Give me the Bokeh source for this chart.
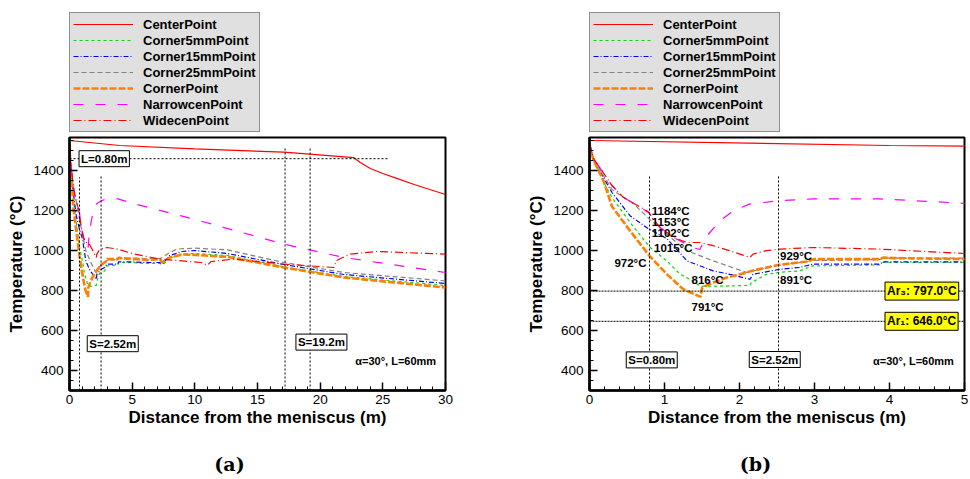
from bokeh.plotting import figure
from bokeh.layouts import row, column
from bokeh.models import (Range1d, Legend, LegendItem, Label,
                          SingleIntervalTicker)
from bokeh.embed import file_html
from bokeh.resources import INLINE

# ---------------- data ----------------
X_CENTER = [0, 4, 10, 17.1, 22.7, 23.2, 24.0, 25.0, 26.0, 27.5, 30]
T_CENTER = [1550, 1525, 1508, 1492, 1464, 1440, 1410, 1385, 1363, 1330, 1280]

X_C5 = [0, 0.05, 0.19, 0.3, 0.54, 0.8, 1.03, 1.21, 1.34, 1.45, 1.5, 1.8, 2.14,
        2.16, 2.36, 2.54, 2.8, 2.98, 3.87, 3.91, 5.0, 6.0, 7.2, 7.4, 8.0, 9.0,
        10, 12.6, 17.1, 21.9, 30]
T_C5 = [1530, 1465, 1340, 1265, 1141, 1018, 948, 881, 856, 828, 822, 822, 826,
        840, 881, 891, 898, 923, 928, 940, 940, 935, 935, 928, 960, 983,
        985, 975, 918, 870, 825]

X_C15 = [0, 0.05, 0.3, 0.54, 0.8, 1.03, 1.2, 1.3, 1.65, 1.87, 2.14, 2.18, 2.54,
         2.8, 2.98, 3.87, 3.91, 5.0, 6.0, 7.2, 7.4, 8.0, 9.0, 10, 12.6, 17.1,
         21.9, 30]
T_C15 = [1530, 1455, 1290, 1174, 1105, 1060, 990, 948, 898, 881, 856, 881, 906,
         915, 932, 932, 943, 943, 940, 940, 932, 975, 995, 1000, 985, 930,
         880, 835]

X_C25 = [0, 0.05, 0.3, 0.59, 0.8, 1.16, 1.3, 1.65, 2.1, 2.16, 2.36, 2.54, 2.8,
         2.98, 3.87, 3.91, 5.0, 6.0, 7.2, 7.4, 8.0, 8.6, 10, 12.6, 17.1, 21.9,
         30]
T_C25 = [1530, 1458, 1305, 1233, 1157, 1040, 999, 948, 890, 895, 915, 930, 940,
         950, 955, 962, 962, 960, 960, 965, 990, 1007, 1012, 1003, 940, 890,
         848]

X_CORNER = [0, 0.05, 0.19, 0.3, 0.54, 0.8, 1.03, 1.25, 1.48, 1.5, 1.65, 1.83,
            2.1, 2.16, 2.52, 2.9, 3.0, 3.87, 3.92, 4.05, 5.0, 5.4, 6.2, 7.2,
            7.4, 8.0, 9.0, 10, 12.6, 17.1, 21.9, 30]
T_CORNER = [1530, 1455, 1345, 1220, 1099, 973, 882, 806, 768, 814, 840, 865,
            890, 898, 928, 945, 957, 957, 965, 962, 957, 957, 952, 957,
            940, 965, 980, 978, 968, 915, 865, 815]

X_NARROW = [0, 0.05, 0.3, 0.45, 0.68, 0.8, 0.94, 1.12, 1.3, 1.4, 1.47, 1.56,
            1.74, 1.92, 2.14, 2.54, 2.98, 3.87, 5.0, 9.9, 17.1, 21.9, 30]
T_NARROW = [1535, 1462, 1325, 1266, 1216, 1186, 1116, 1065, 1030, 1012, 1005,
            1070, 1149, 1199, 1233, 1249, 1258, 1258, 1236, 1157, 1032, 965, 890]

X_WIDE = [0, 0.05, 0.3, 0.45, 0.68, 0.78, 0.8, 0.82, 0.94, 1.12, 1.3, 1.47,
          1.65, 1.87, 2.14, 2.18, 2.36, 2.54, 2.98, 3.87, 5.0, 7.2, 9.0, 10.5,
          11.0, 11.3, 11.8, 13.1, 17.1, 21.1, 21.3, 22.4, 24.5, 30]
T_WIDE = [1535, 1462, 1325, 1266, 1216, 1195, 1184, 1170, 1116, 1065, 1040,
          1040, 1024, 999, 965, 982, 999, 1007, 1015, 1007, 985, 957, 948, 940,
          926, 945, 948, 957, 932, 915, 950, 982, 995, 982]

SERIES_NAMES = ["CenterPoint", "Corner5mmPoint", "Corner15mmPoint",
                "Corner25mmPoint", "CornerPoint", "NarrowcenPoint", "WidecenPoint"]
SERIES_X = [X_CENTER, X_C5, X_C15, X_C25, X_CORNER, X_NARROW, X_WIDE]
SERIES_T = [T_CENTER, T_C5, T_C15, T_C25, T_CORNER, T_NARROW, T_WIDE]

# reference lines
A_VLINE_X = [0.8, 2.52, 17.2, 19.2]
A_VLINE_TOP = [1366, 1375, 1510, 1510]
A_HLINE_T = 1459
A_HLINE_XEND = 25.5
B_VLINE_X = [0.8, 2.52]
B_VLINE_TOP = [1375, 1375]
AR3 = 797.0
AR1 = 646.0

# annotation texts
B_TEMP_TEXT = ["1184°C", "1153°C", "1102°C", "1015°C", "972°C", "816°C",
               "791°C", "929°C", "891°C"]
B_TEMP_X = [0.83, 0.83, 0.83, 0.86, 0.76, 1.36, 1.36, 2.54, 2.54]
B_TEMP_Y = [1199, 1141, 1090, 1015, 940, 852, 716, 973, 851]
B_TEMP_ALIGN = ["left", "left", "left", "left", "right", "left", "left",
                "left", "left"]
PANEL_TAGS = ["(a)", "(b)"]

Y_MIN, Y_MAX = 300, 1565

STYLES = [
    dict(color="#ff0000", line_width=1.2, line_dash="solid"),
    dict(color="#00dd00", line_width=1.2, line_dash="3 3"),
    dict(color="#0000ff", line_width=1.2, line_dash="5 2 1 2"),
    dict(color="#808080", line_width=1.2, line_dash="5 3"),
    dict(color="#ff7f00", line_width=2.6, line_dash="7 2"),
    dict(color="#ff00ff", line_width=1.2, line_dash="10 12"),
    dict(color="#ff0000", line_width=1.2, line_dash="8 3 1 3"),
]

FONT = "Liberation Sans"
LEG_H = 135        # legend strip
MAIN_H = 299       # plot (frame 253 px high)
BOT_H = 43         # strip with the panel tag


def boxed(p, x, y, text, fill="white", align="center", size="11.5px"):
    p.add_layout(Label(x=x, y=y, text=text, text_align=align,
                       text_baseline="middle", text_font=FONT,
                       text_font_style="bold", text_font_size=size,
                       text_color="black", background_fill_color=fill,
                       background_fill_alpha=1.0, border_line_color="black",
                       border_line_width=1, padding=2))


def plain(p, x, y, text, align="left", size="11.5px", style="bold"):
    p.add_layout(Label(x=x, y=y, text=text, text_align=align,
                       text_baseline="middle", text_font=FONT,
                       text_font_style=style, text_font_size=size,
                       text_color="black"))


def blank_fig(width, height, bl, br, xr, yr):
    q = figure(width=width, height=height, output_backend="svg",
               toolbar_location=None, title=None, x_axis_type=None,
               y_axis_type=None, x_range=xr, y_range=yr,
               min_border_left=bl, min_border_right=br,
               min_border_top=0, min_border_bottom=0)
    q.outline_line_color = None
    q.xgrid.visible = False
    q.ygrid.visible = False
    return q


def make_legend_fig(width, bl, br):
    # legend-only strip; the series are drawn here outside the visible range
    q = blank_fig(width, LEG_H, bl, br, Range1d(-200, -100), Range1d(-200, -100))
    items = []
    for name, xs, ts, st in zip(SERIES_NAMES, SERIES_X, SERIES_T, STYLES):
        r = q.line(xs, ts, line_color=st["color"], line_width=st["line_width"],
                   line_dash=st["line_dash"])
        items.append(LegendItem(label=name, renderers=[r]))
    leg = Legend(items=items, location=(0, 3))
    leg.background_fill_color = "#e0e0e0"
    leg.background_fill_alpha = 1.0
    leg.border_line_color = "#404040"
    leg.border_line_width = 1
    leg.label_text_font = FONT
    leg.label_text_font_style = "bold"
    leg.label_text_font_size = "13px"
    leg.label_text_color = "black"
    leg.glyph_width = 60
    leg.glyph_height = 16
    leg.label_height = 16
    leg.label_standoff = 10
    leg.padding = 3
    leg.spacing = 0
    leg.margin = 0
    q.add_layout(leg)
    return q


def make_tag_fig(width, bl, br, tag, cx):
    fw = width - bl - br
    q = blank_fig(width, BOT_H, bl, br, Range1d(0, fw), Range1d(BOT_H, 0))
    q.add_layout(Label(x=cx, y=BOT_H - 14, text=tag, text_align="center",
                       text_baseline="middle", text_font="DejaVu Serif",
                       text_font_size="19px", text_font_style="bold",
                       text_color="black"))
    return q


def make_fig(width, bl, br, xmax, xint):
    p = figure(width=width, height=MAIN_H, output_backend="svg",
               toolbar_location=None, title=None,
               x_range=Range1d(0, xmax), y_range=Range1d(Y_MIN, Y_MAX),
               min_border_left=bl, min_border_right=br, min_border_top=2,
               min_border_bottom=44)
    p.background_fill_color = "white"
    p.border_fill_color = "white"
    p.outline_line_color = "black"
    p.outline_line_width = 2
    p.xgrid.visible = False
    p.ygrid.visible = False
    p.xaxis.ticker = SingleIntervalTicker(interval=xint, num_minor_ticks=5)
    p.yaxis.ticker = SingleIntervalTicker(interval=200, num_minor_ticks=4)
    for ax in (p.xaxis[0], p.yaxis[0]):
        ax.axis_line_width = 2.5
        ax.axis_line_color = "black"
        ax.major_tick_in = 8
        ax.major_tick_out = 0
        ax.minor_tick_in = 4
        ax.minor_tick_out = 0
        ax.major_tick_line_width = 1.5
        ax.minor_tick_line_width = 1
        ax.major_label_text_font = FONT
        ax.major_label_text_font_size = "13.5px"
        ax.major_label_text_color = "black"
        ax.axis_label_text_font = FONT
        ax.axis_label_text_font_size = "17px"
        ax.axis_label_text_font_style = "bold"
        ax.axis_label_text_color = "black"
    p.xaxis.axis_label = "Distance from the meniscus (m)"
    p.yaxis.axis_label = "Temperature (°C)"
    p.xaxis.major_label_standoff = 4
    p.xaxis.axis_label_standoff = 1
    p.yaxis.major_label_standoff = 6
    p.yaxis.axis_label_standoff = 4

    for xs, ts, st in zip(SERIES_X, SERIES_T, STYLES):
        p.line(xs, ts, line_color=st["color"], line_width=st["line_width"],
               line_dash=st["line_dash"])
    return p


# ---------------- (a) ----------------
la = make_legend_fig(485, 69, 40)
pa = make_fig(485, 69, 40, 30, 5)
ta = make_tag_fig(485, 69, 40, PANEL_TAGS[0], 229 - 69)
pa.segment(x0=A_VLINE_X, y0=[Y_MIN] * len(A_VLINE_X), x1=A_VLINE_X,
           y1=A_VLINE_TOP, line_color="black", line_dash="2 2", line_width=1)
pa.line([0, A_HLINE_XEND], [A_HLINE_T, A_HLINE_T], line_color="black",
        line_dash="2 2", line_width=1)
boxed(pa, 2.77, A_HLINE_T, "L=0.80m")
boxed(pa, 3.45, 534, "S=2.52m")
boxed(pa, 20.1, 542, "S=19.2m")
plain(pa, 22.8, 447, "α=30°, L=60mm", size="11px")

# ---------------- (b) ----------------
lb = make_legend_fig(484, 104, 5)
pb = make_fig(484, 104, 5, 5, 1)
tb = make_tag_fig(484, 104, 5, PANEL_TAGS[1], 755 - 589)
pb.segment(x0=B_VLINE_X, y0=[Y_MIN] * len(B_VLINE_X), x1=B_VLINE_X,
           y1=B_VLINE_TOP, line_color="black", line_dash="2 2", line_width=1)
pb.line([0, 5], [AR3, AR3], line_color="black", line_dash="2 1", line_width=1)
pb.line([0, 5], [AR1, AR1], line_color="black", line_dash="2 1", line_width=1)
for txt, x, y, al in zip(B_TEMP_TEXT, B_TEMP_X, B_TEMP_Y, B_TEMP_ALIGN):
    plain(pb, x, y, txt, align=al, size="11.5px")
boxed(pb, 3.94, AR3, "Ar₃: 797.0°C", fill="#ffff00", align="left", size="12px")
boxed(pb, 3.94, AR1, "Ar₁: 646.0°C", fill="#ffff00", align="left", size="12px")
boxed(pb, 0.83, 453, "S=0.80m")
boxed(pb, 2.47, 455, "S=2.52m")
plain(pb, 3.78, 447, "α=30°, L=60mm", size="11px")

layout = row(column(la, pa, ta), column(lb, pb, tb))
open("out.html", "w").write(file_html(layout, INLINE))
